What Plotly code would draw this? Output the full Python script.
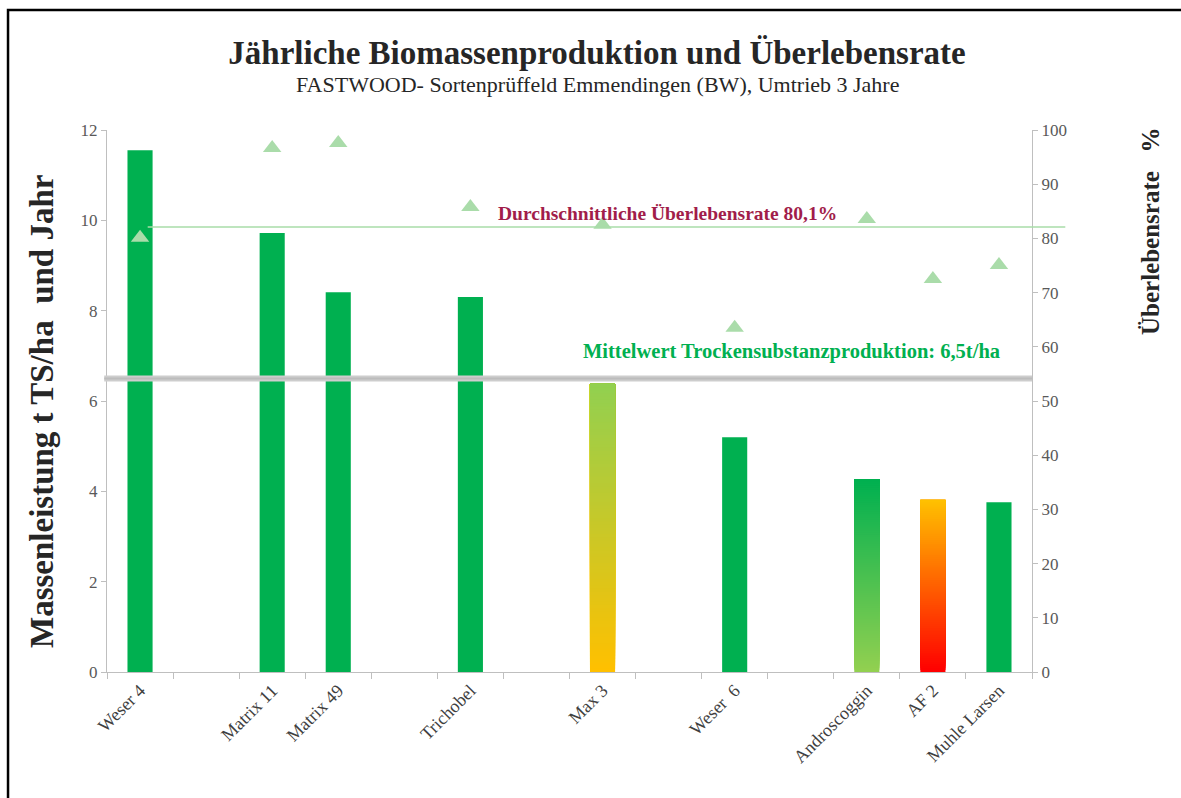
import plotly.graph_objects as go

# ---------------- data ----------------
categories = ["Weser 4", "", "Matrix 11", "Matrix 49", "", "Trichobel", "", "Max 3",
              "", "Weser  6", "", "Androscoggin", "AF 2", "Muhle Larsen"]
production = [11.55, None, 9.72, 8.41, None, 8.30, None, 6.38,
              None, 5.20, None, 4.27, 3.81, 3.76]          # t TS/ha und Jahr
survival = [80.1, None, 96.7, 97.6, None, 85.8, None, 82.5,
            None, 63.5, None, 83.6, 72.5, 75.1]             # %
mean_production = 6.5
mean_survival_line = 82.1
mean_production_label = "Mittelwert Trockensubstanzproduktion: 6,5t/ha"
mean_survival_label = "Durchschnittliche Überlebensrate 80,1%"
# gradient bars: (bottom colour, top colour)
gradients = {"Max 3": ("#ffc000", "#92d050"),
             "Androscoggin": ("#92d050", "#00b050"),
             "AF 2": ("#ff0000", "#ffc000")}

# ---------------- helpers ----------------
xcats = []
for i, c in enumerate(categories):
    xcats.append(c if c else "\u200b" * (i + 1))


def hex2rgb(h):
    h = h.lstrip("#")
    return tuple(int(h[i:i + 2], 16) for i in (0, 2, 4))


def mix(c0, c1, t):
    a, b = hex2rgb(c0), hex2rgb(c1)
    return "rgb(%d,%d,%d)" % tuple(round(a[k] + (b[k] - a[k]) * t) for k in range(3))


GREEN = "#00b050"
AXIS = "#bfbfbf"
TICKFONT = dict(family="Liberation Serif", size=17, color="#595959")
BAR_W = 0.38

fig = go.Figure()

solid_x = [xcats[i] for i, c in enumerate(categories) if production[i] is not None and c not in gradients]
solid_y = [production[i] for i, c in enumerate(categories) if production[i] is not None and c not in gradients]
fig.add_trace(go.Bar(x=solid_x, y=solid_y, width=BAR_W, marker=dict(color=GREEN, line=dict(width=0)),
                     showlegend=False, hoverinfo="skip"))

N = 90
for i, c in enumerate(categories):
    if c in gradients:
        v = production[i]
        c0, c1 = gradients[c]
        bases = [v * k / N for k in range(N)]
        fig.add_trace(go.Bar(x=[xcats[i]] * N, y=[v - b for b in bases], base=bases, width=BAR_W,
                             marker=dict(color=[mix(c0, c1, k / (N - 1)) for k in range(N)], line=dict(width=0)),
                             showlegend=False, hoverinfo="skip"))

fig.add_trace(go.Scatter(x=xcats, y=survival, yaxis="y2", mode="markers",
                         marker=dict(symbol="triangle-up", size=16, color="#aadcaa"),
                         showlegend=False, hoverinfo="skip"))

fig.add_shape(type="line", xref="paper", yref="y", x0=-0.003, x1=1.0, y0=mean_production, y1=mean_production,
              line=dict(color="#cdcdcd", width=6), layer="above")
fig.add_shape(type="line", xref="paper", yref="y", x0=-0.003, x1=1.0, y0=mean_production, y1=mean_production,
              line=dict(color="#bcbcbc", width=2), layer="above")
fig.add_shape(type="line", xref="paper", yref="y2", x0=0.044, x1=1.036, y0=mean_survival_line, y1=mean_survival_line,
              line=dict(color="#a8dca8", width=1.5), layer="above")

fig.add_shape(type="rect", xref="paper", yref="paper", x0=-0.107, x1=1.17, y0=-0.25, y1=1.2214,
              line=dict(color="black", width=2.5), fillcolor="rgba(0,0,0,0)", layer="above")

ann = [
    dict(text="FASTWOOD- Sortenprüffeld Emmendingen (BW), Umtrieb 3 Jahre", x=(597 - 107) / 925, y=(672 - 84) / 542,
         font=dict(family="Liberation Serif", size=22, color="#262626")),
    dict(text="<b>Massenleistung t TS/ha  und Jahr</b>", x=(42 - 107) / 925, y=(672 - 412) / 542, textangle=-90,
         font=dict(family="Liberation Serif", size=33, color="#262626")),
    dict(text="<b>Überlebensrate   %</b>", x=(1150 - 107) / 925, y=(672 - 231) / 542, textangle=-90,
         font=dict(family="Liberation Serif", size=25, color="#262626")),
    dict(text="<b>" + mean_survival_label + "</b>", x=(667 - 107) / 925, y=(672 - 213) / 542,
         font=dict(family="Liberation Serif", size=19.5, color="#a11d4a")),
    dict(text="<b>" + mean_production_label + "</b>", x=(791 - 107) / 925, y=(672 - 351) / 542,
         font=dict(family="Liberation Serif", size=20.5, color=GREEN)),
]
for a in ann:
    a.update(xref="paper", yref="paper", showarrow=False, xanchor="center", yanchor="middle")
    fig.add_annotation(**a)

fig.update_layout(
    width=1181, height=798,
    margin=dict(l=107, r=149, t=130, b=126),
    paper_bgcolor="white", plot_bgcolor="white",
    barmode="overlay",
    title=dict(text="<b>Jährliche Biomassenproduktion und Überlebensrate</b>",
               x=597 / 1181, xref="container", xanchor="center",
               y=1 - 52 / 798, yref="container", yanchor="middle",
               font=dict(family="Liberation Serif", size=33, color="#262626")),
    xaxis=dict(type="category", categoryorder="array", categoryarray=xcats, range=[-0.5, len(xcats) - 0.5],
               tickson="boundaries", ticks="outside", ticklen=6, tickcolor=AXIS, tickwidth=1,
               showline=True, linecolor=AXIS, linewidth=1, showgrid=False, zeroline=False,
               tickangle=-45, tickfont=dict(family="Liberation Serif", size=18, color="#404040")),
    yaxis=dict(range=[0, 12], dtick=2, ticks="outside", ticklen=5, tickcolor=AXIS,
               showline=True, linecolor=AXIS, linewidth=1, showgrid=False, zeroline=False,
               tickfont=TICKFONT),
    yaxis2=dict(range=[0, 100], dtick=10, overlaying="y", side="right", ticks="outside", ticklen=5,
                tickcolor=AXIS, showline=True, linecolor=AXIS, linewidth=1, showgrid=False, zeroline=False,
                tickfont=TICKFONT),
)

fig.write_html("out.html", config={"displayModeBar": False},
               post_script="document.body.style.margin='0';document.body.style.overflow='hidden';")
